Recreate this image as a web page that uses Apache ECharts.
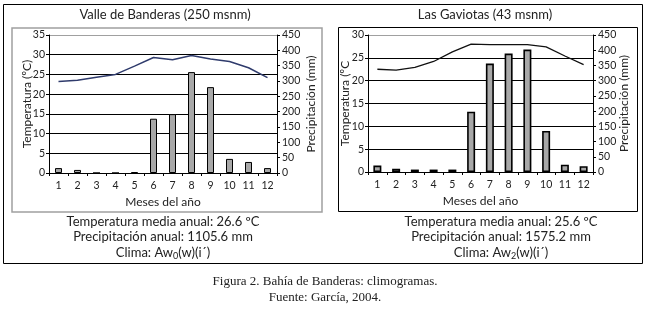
<!DOCTYPE html>
<html>
<head>
<meta charset="utf-8">
<script src="https://cdn.jsdelivr.net/npm/echarts@6/dist/echarts.min.js"></script>
<style>
html,body{margin:0;padding:0;background:#fff;}
#main{width:649px;height:311px;}
</style>
</head>
<body>
<div id="main"></div>
<script>
// meses
var months = ['1','2','3','4','5','6','7','8','9','10','11','12'];
// Valle de Banderas
var tempValle = [23.2, 23.5, 24.3, 25.0, 27.1, 29.3, 28.7, 29.8, 28.9, 28.3, 26.7, 24.2];
var precValle = [16, 10, 0, 0, 3, 177, 192, 329, 280, 46, 36, 16];
// Las Gaviotas
var tempGaviotas = [22.5, 22.3, 22.9, 24.2, 26.3, 28.0, 27.9, 27.9, 27.9, 27.4, 25.4, 23.5];
var precGaviotas = [21, 11, 8, 8, 8, 198, 356, 389, 402, 135, 24, 19];

var FONT = 'Lato, "Open Sans", sans-serif';
var txt = '#222';

function yTemp(grid, max, name, gap, gridColors){
	return {
		type: 'value', gridIndex: grid, position: 'left',
		min: 0, max: max, interval: 5,
		name: name, nameLocation: 'middle', nameGap: gap, nameRotate: 90, nameMoveOverlap: false,
		nameTextStyle: {fontFamily: FONT, fontSize: 12, color: txt},
		axisLine: {show: true, lineStyle: {color: '#000', width: 1}},
		axisTick: {show: true, length: 3, lineStyle: {color: '#000'}},
		axisLabel: {fontFamily: FONT, fontSize: 10.5, color: txt, margin: 4},
		splitLine: {show: true, lineStyle: {color: gridColors, width: 1}}
	};
}
function yPrec(grid, gap){
	return {
		type: 'value', gridIndex: grid, position: 'right',
		min: 0, max: 450, interval: 50,
		name: 'Precipitación (mm)', nameLocation: 'middle', nameGap: gap, nameRotate: 90, nameMoveOverlap: false,
		nameTextStyle: {fontFamily: FONT, fontSize: 12, color: txt},
		axisLine: {show: true, lineStyle: {color: '#000', width: 1}},
		axisTick: {show: true, length: 3, lineStyle: {color: '#000'}},
		axisLabel: {fontFamily: FONT, fontSize: 10.5, color: txt, margin: 5},
		splitLine: {show: false}
	};
}
function xMes(grid){
	return {
		type: 'category', gridIndex: grid, data: months,
		name: 'Meses del año', nameLocation: 'middle', nameGap: 23, nameMoveOverlap: false,
		nameTextStyle: {fontFamily: FONT, fontSize: 12, color: txt},
		axisLine: {lineStyle: {color: '#000', width: 1}},
		axisTick: {show: true, length: 3, lineStyle: {color: '#000'}},
		axisLabel: {fontFamily: FONT, fontSize: 10.5, color: txt, margin: 7, interval: 0}
	};
}

var subRich = {s: {fontSize: 9, fontFamily: FONT, fill: txt, lineHeight: 9, verticalAlign: 'bottom'}};

var chart = echarts.init(document.getElementById('main'));
var option = {
	animation: false,
	backgroundColor: '#fff',
	grid: [
		{left: 49, right: 372, top: 35, bottom: 138},
		{left: 368, right: 56, top: 35, bottom: 139}
	],
	xAxis: [xMes(0), xMes(1)],
	yAxis: [
		yTemp(0, 35, 'Temperatura (ºC)', 16, ['#000','#000','#000','#000','#000','#000','#000','#a0a0a0']),
		yPrec(0, 28),
		yTemp(1, 30, 'Temperatura (ºC', 17, ['#000','#000','#000','#000','#000','#000','#a0a0a0']),
		yPrec(1, 25)
	],
	series: [
		{type: 'bar', xAxisIndex: 0, yAxisIndex: 1, data: precValle, barWidth: 7,
		 itemStyle: {color: '#a8a8a8', borderColor: '#000', borderWidth: 1}},
		{type: 'line', xAxisIndex: 0, yAxisIndex: 0, data: tempValle, showSymbol: false,
		 lineStyle: {color: '#2f3b6c', width: 1.5}},
		{type: 'bar', xAxisIndex: 1, yAxisIndex: 3, data: precGaviotas, barWidth: 8,
		 itemStyle: {color: '#a8a8a8', borderColor: '#000', borderWidth: 1.6}},
		{type: 'line', xAxisIndex: 1, yAxisIndex: 2, data: tempGaviotas, showSymbol: false,
		 lineStyle: {color: '#111', width: 1.3}}
	],
	graphic: [
		{type: 'rect', shape: {x: 3.5, y: 4.5, width: 639, height: 259}, style: {fill: null, stroke: '#000', lineWidth: 1}, z: 0},
		{type: 'rect', shape: {x: 12, y: 28, width: 310, height: 184}, style: {fill: null, stroke: '#a0a0a0', lineWidth: 1.5}, z: 0},
		{type: 'rect', shape: {x: 338.5, y: 27.5, width: 299, height: 184}, style: {fill: null, stroke: '#000', lineWidth: 1}, z: 0},
		{type: 'text', x: 165, y: 15, style: {text: 'Valle de Banderas (250 msnm)', font: '13px ' + FONT, fill: txt, align: 'center', verticalAlign: 'middle'}},
		{type: 'text', x: 485, y: 15, style: {text: 'Las Gaviotas (43 msnm)', font: '13px ' + FONT, fill: txt, align: 'center', verticalAlign: 'middle'}},
		{type: 'text', x: 163, y: 222, style: {text: 'Temperatura media anual: 26.6 ºC', font: '13px ' + FONT, fill: txt, align: 'center', verticalAlign: 'middle'}},
		{type: 'text', x: 163, y: 237, style: {text: 'Precipitación anual: 1105.6 mm', font: '13px ' + FONT, fill: txt, align: 'center', verticalAlign: 'middle'}},
		{type: 'text', x: 163, y: 253, style: {text: 'Clima: Aw{s|0}(w)(i´)', font: '13px ' + FONT, fill: txt, align: 'center', verticalAlign: 'middle', lineHeight: 16, rich: subRich}},
		{type: 'text', x: 501, y: 222, style: {text: 'Temperatura media anual: 25.6 ºC', font: '13px ' + FONT, fill: txt, align: 'center', verticalAlign: 'middle'}},
		{type: 'text', x: 501, y: 237, style: {text: 'Precipitación anual: 1575.2 mm', font: '13px ' + FONT, fill: txt, align: 'center', verticalAlign: 'middle'}},
		{type: 'text', x: 501, y: 253, style: {text: 'Clima: Aw{s|2}(w)(i´)', font: '13px ' + FONT, fill: txt, align: 'center', verticalAlign: 'middle', lineHeight: 16, rich: subRich}},
		{type: 'text', x: 325, y: 282, style: {text: 'Figura 2. Bahía de Banderas: climogramas.', font: '13px "Liberation Serif", serif', fill: '#222', align: 'center', verticalAlign: 'middle'}},
		{type: 'text', x: 325, y: 298, style: {text: 'Fuente: García, 2004.', font: '13px "Liberation Serif", serif', fill: '#222', align: 'center', verticalAlign: 'middle'}}
	]
};
chart.setOption(option);
</script>
</body>
</html>
